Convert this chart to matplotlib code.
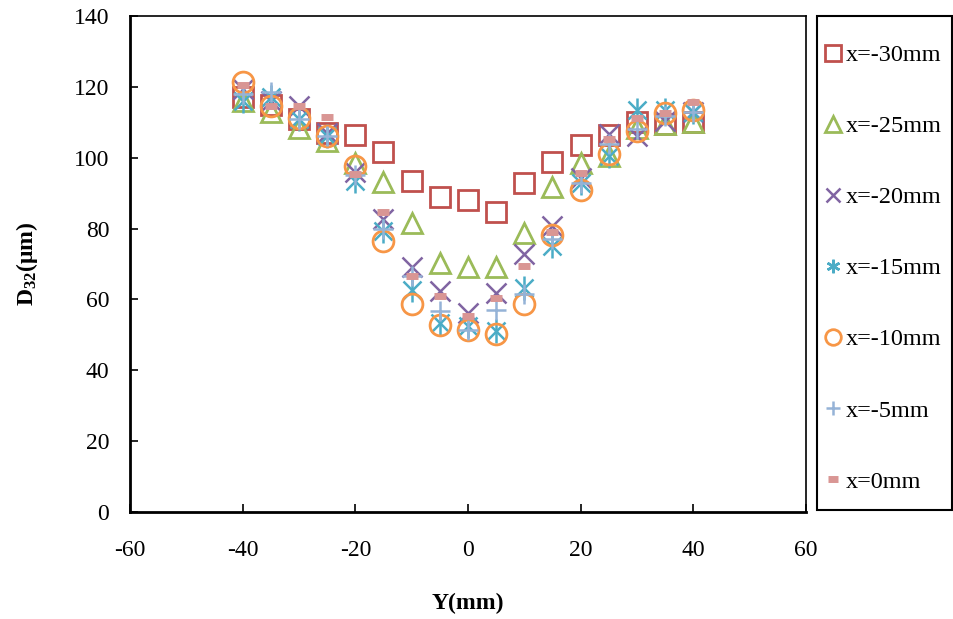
import matplotlib
matplotlib.use('Agg')
import matplotlib.pyplot as plt
from matplotlib.patches import Rectangle

plt.rcParams['font.family'] = ['Liberation Serif', 'DejaVu Serif']
plt.rcParams['mathtext.fontset'] = 'custom'
plt.rcParams['mathtext.rm'] = 'Liberation Serif'
plt.rcParams['mathtext.bf'] = 'Liberation Serif:bold'
plt.rcParams['mathtext.default'] = 'bf'
plt.rcParams['axes.unicode_minus'] = False

# radial position Y (mm)
y_pos = [-40, -35, -30, -25, -20, -15, -10, -5, 0, 5, 10, 15, 20, 25, 30, 35, 40]

# D32 (um) for each axial station x
d_x30 = [117, 115, 111, 107, 106.5, 101.5, 93.4, 88.9, 88.2, 84.6, 93, 98.8, 103.5, 106.5, 110, 109.5, 110]
d_x25 = [116, 112.8, 108.5, 104.7, 98.5, 93.2, 81.6, 70.3, 69.2, 69.2, 78.7, 91.8, 98.6, 100.5, 108.5, 109.5, 110]
d_x20 = [119.5, 116, 114.5, 107, 96, 82.6, 69.2, 62.3, 56.2, 61.8, 72.7, 80.7, 94.4, 106.6, 106.1, 110.4, 112.8]
d_x15 = [116, 117, 111, 106, 93.4, 79.2, 62.8, 53.4, 52.4, 51, 63.3, 75, 93, 100.5, 113.5, 113.5, 113]
d_x10 = [121.5, 114.6, 111.3, 106.1, 97.7, 76.6, 58.8, 52.9, 51.3, 50.3, 58.8, 78.3, 91, 101, 107.6, 112.7, 113.5]
d_x5 = [118, 118.5, 111, 106, 95, 80, 66.5, 56.6, 51.5, 57.1, 61.4, 77, 92.8, 104, 108, 111.8, 112.8]
d_x0 = [120.5, 114.6, 114.6, 111.5, 95.3, 84.8, 66.5, 60.9, 55.4, 60.4, 69.4, 79.1, 95.8, 105.2, 111.3, 112.6, 115.6]

series = [
    (d_x30, 'x=-30mm', 's', '#C0504D'),
    (d_x25, 'x=-25mm', '^', '#9BBB59'),
    (d_x20, 'x=-20mm', 'x', '#8064A2'),
    (d_x15, 'x=-15mm', 'ast', '#4BACC6'),
    (d_x10, 'x=-10mm', 'o', '#F79646'),
    (d_x5, 'x=-5mm', '+', '#95B3D7'),
    (d_x0, 'x=0mm', '_', '#D99694'),
]

fig = plt.figure(figsize=(9.54, 6.19), dpi=100)
ax = fig.add_axes([130 / 954, 1 - 512 / 619, 676 / 954, 496 / 619])

handles = []
for vals, lab, mk, col in series:
    if mk == '_':
        h, = ax.plot(y_pos, vals, ls='none', marker='_', ms=9, mew=5, color=col, label=lab)
    elif mk in ('x', '+'):
        h, = ax.plot(y_pos, vals, ls='none', marker=mk, ms=14, mew=1.8, color=col, label=lab)
    elif mk == 'ast':
        # asterisk built from an x and a vertical bar
        ax.plot(y_pos, vals, ls='none', marker='x', ms=13, mew=1.8, color=col)
        ax.plot(y_pos, vals, ls='none', marker='|', ms=17, mew=1.8, color=col)
        h, = ax.plot([], [], ls='none', marker=(6, 2, 0), ms=13, mew=1.8, color=col, label=lab)
    else:
        h, = ax.plot(y_pos, vals, ls='none', marker=mk, ms=15, mew=2, mfc='none', color=col, label=lab)
    handles.append(h)

ax.set_xlim(-60, 60)
ax.set_ylim(0, 140)
ax.set_xticks(range(-60, 61, 20))
ax.set_yticks(range(0, 141, 20))
ax.tick_params(direction='in', length=6, width=1.2, labelsize=17)
ax.tick_params(axis='y', pad=15)
ax.tick_params(axis='x', pad=20)
for s in ['left', 'bottom']:
    ax.spines[s].set_linewidth(2)
for s in ['top', 'right']:
    ax.spines[s].set_linewidth(1.2)

ax.set_xlabel('Y(mm)', fontsize=17, fontweight='bold', labelpad=23)
ax.set_ylabel('D$_{32}$(μm)', fontsize=17, fontweight='bold', labelpad=24)

# legend frame drawn at the right of the plot
fig.patches.append(Rectangle((817 / 954, 1 - 510 / 619), 135 / 954, 494 / 619,
                             transform=fig.transFigure, fill=False, lw=1.5, ec='black'))
leg = fig.legend(handles=handles, loc='upper left', bbox_to_anchor=(823 / 954, 1 - 44 / 619),
                 frameon=False, fontsize=17.5, labelspacing=2.02, handlelength=0.8,
                 handletextpad=0.15, borderpad=0, borderaxespad=0, markerscale=0.75)

fig.savefig('out.png', dpi=100)
